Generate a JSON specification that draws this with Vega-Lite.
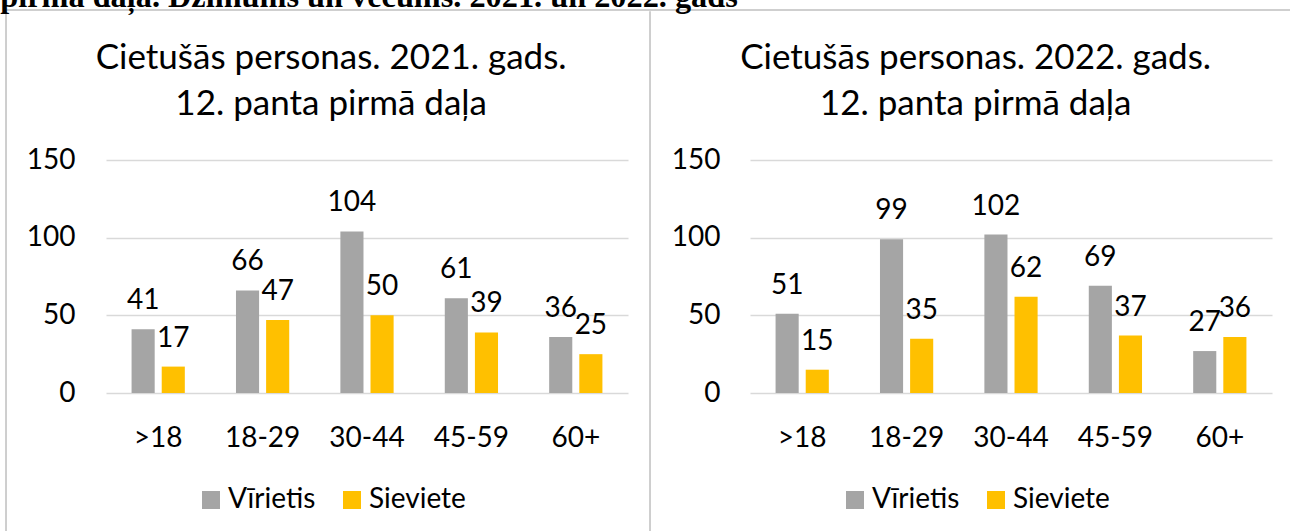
{
  "$schema": "https://vega.github.io/schema/vega-lite/v6.json",
  "padding": {"top": -20, "left": 0, "right": 0, "bottom": 0},
  "background": "white",
  "title": {"text": "pirmā daļa. Dzimums un vecums. 2021. un 2022. gads", "font": "Liberation Serif", "fontSize": 32.3, "fontWeight": "bold", "color": "#000000", "anchor": "start", "baseline": "alphabetic", "offset": -30, "dx": -5},
  "datasets": {
    "victims": [
      {"year": 2021, "age": ">18", "sex": "Vīrietis", "value": 41},
      {"year": 2021, "age": ">18", "sex": "Sieviete", "value": 17},
      {"year": 2021, "age": "18-29", "sex": "Vīrietis", "value": 66},
      {"year": 2021, "age": "18-29", "sex": "Sieviete", "value": 47},
      {"year": 2021, "age": "30-44", "sex": "Vīrietis", "value": 104},
      {"year": 2021, "age": "30-44", "sex": "Sieviete", "value": 50},
      {"year": 2021, "age": "45-59", "sex": "Vīrietis", "value": 61},
      {"year": 2021, "age": "45-59", "sex": "Sieviete", "value": 39},
      {"year": 2021, "age": "60+", "sex": "Vīrietis", "value": 36},
      {"year": 2021, "age": "60+", "sex": "Sieviete", "value": 25},
      {"year": 2022, "age": ">18", "sex": "Vīrietis", "value": 51},
      {"year": 2022, "age": ">18", "sex": "Sieviete", "value": 15},
      {"year": 2022, "age": "18-29", "sex": "Vīrietis", "value": 99},
      {"year": 2022, "age": "18-29", "sex": "Sieviete", "value": 35},
      {"year": 2022, "age": "30-44", "sex": "Vīrietis", "value": 102},
      {"year": 2022, "age": "30-44", "sex": "Sieviete", "value": 62},
      {"year": 2022, "age": "45-59", "sex": "Vīrietis", "value": 69},
      {"year": 2022, "age": "45-59", "sex": "Sieviete", "value": 37},
      {"year": 2022, "age": "60+", "sex": "Vīrietis", "value": 27},
      {"year": 2022, "age": "60+", "sex": "Sieviete", "value": 36}
    ]
  },
  "config": {"view": {"stroke": null}, "font": "Lato", "legend": {"layout": {"bottom": {"anchor": "middle"}}}},
  "spacing": 0,
  "resolve": {"scale": {"color": "independent"}, "legend": {"color": "independent"}},
  "vconcat": [
    {"width": 1285, "height": 0.01, "data": {"values": []}, "mark": {"type": "point"}, "view": {"stroke": "#BFBFBF", "strokeWidth": 1.5}},
    {
      "spacing": 21,
      "resolve": {"scale": {"color": "independent"}, "legend": {"color": "independent"}},
      "hconcat": [
        {
          "spacing": 19,
          "resolve": {"scale": {"color": "independent"}, "legend": {"color": "independent"}},
          "hconcat": [
            {"width": 0.01, "height": 520, "data": {"values": []}, "mark": {"type": "point"}, "view": {"stroke": "#BFBFBF", "strokeWidth": 1.5}},
            {
              "spacing": 28,
              "resolve": {"scale": {"color": "independent"}, "legend": {"color": "independent"}},
              "vconcat": [
                {"width": 522, "height": 0.01, "data": {"values": []}, "mark": {"type": "point"}},
                {
                  "width": 522, "height": 233,
                  "data": {"name": "victims"},
                  "transform": [{"filter": "datum.year == 2021"}],
                  "title": {"text": ["Cietušās personas. 2021. gads.", "12. panta pirmā daļa"], "font": "Lato", "fontSize": 35, "fontWeight": "normal", "lineHeight": 46, "color": "#000000", "baseline": "top", "anchor": "middle", "frame": "bounds", "offset": 24, "dx": 4},
                  "encoding": {
                    "x": {"field": "age", "type": "nominal", "sort": [">18", "18-29", "30-44", "45-59", "60+"], "scale": {"paddingInner": 0.49, "paddingOuter": 0.245},
                      "axis": {"domain": false, "ticks": false, "tickSize": 0, "labelAngle": 0, "labelFontSize": 28, "labelFont": "Lato", "labelColor": "#000000", "labelPadding": 31, "title": null}},
                    "xOffset": {"field": "sex", "type": "nominal", "sort": ["Vīrietis", "Sieviete"], "scale": {"paddingInner": 0.233, "paddingOuter": 0}},
                    "y": {"field": "value", "type": "quantitative", "scale": {"domain": [0, 150]},
                      "axis": {"values": [0, 50, 100, 150], "grid": true, "gridColor": "#D9D9D9", "gridWidth": 1.5, "domain": false, "ticks": false, "tickSize": 0, "labelFontSize": 28, "labelFont": "Lato", "labelColor": "#000000", "labelPadding": 31, "title": null}}
                  },
                  "layer": [
                    {"mark": {"type": "bar"},
                     "encoding": {"color": {"field": "sex", "type": "nominal", "scale": {"domain": ["Vīrietis", "Sieviete"], "range": ["#A5A5A5", "#FFC000"]},
                       "legend": {"orient": "bottom", "direction": "horizontal", "title": " ", "titleOrient": "right", "titlePadding": 72, "symbolType": "square", "symbolSize": 324, "symbolStrokeWidth": 0, "labelFontSize": 28, "labelFont": "Lato", "labelColor": "#000000", "labelOffset": 3, "columnPadding": 22, "offset": 34}}}},
                    {"mark": {"type": "text", "baseline": "alphabetic", "dy": -20, "fontSize": 28, "font": "Lato", "color": "#000000"},
                     "encoding": {"text": {"field": "value", "type": "quantitative"}}}
                  ]
                }
              ]
            }
          ]
        },
        {
          "spacing": 20,
          "resolve": {"scale": {"color": "independent"}, "legend": {"color": "independent"}},
          "hconcat": [
            {"width": 0.01, "height": 520, "data": {"values": []}, "mark": {"type": "point"}, "view": {"stroke": "#BFBFBF", "strokeWidth": 1.5}},
            {
              "spacing": 28,
              "resolve": {"scale": {"color": "independent"}, "legend": {"color": "independent"}},
              "vconcat": [
                {"width": 522, "height": 0.01, "data": {"values": []}, "mark": {"type": "point"}},
                {
                  "width": 522, "height": 233,
                  "data": {"name": "victims"},
                  "transform": [{"filter": "datum.year == 2022"}],
                  "title": {"text": ["Cietušās personas. 2022. gads.", "12. panta pirmā daļa"], "font": "Lato", "fontSize": 35, "fontWeight": "normal", "lineHeight": 46, "color": "#000000", "baseline": "top", "anchor": "middle", "frame": "bounds", "offset": 24, "dx": 4},
                  "encoding": {
                    "x": {"field": "age", "type": "nominal", "sort": [">18", "18-29", "30-44", "45-59", "60+"], "scale": {"paddingInner": 0.49, "paddingOuter": 0.245},
                      "axis": {"domain": false, "ticks": false, "tickSize": 0, "labelAngle": 0, "labelFontSize": 28, "labelFont": "Lato", "labelColor": "#000000", "labelPadding": 31, "title": null}},
                    "xOffset": {"field": "sex", "type": "nominal", "sort": ["Vīrietis", "Sieviete"], "scale": {"paddingInner": 0.233, "paddingOuter": 0}},
                    "y": {"field": "value", "type": "quantitative", "scale": {"domain": [0, 150]},
                      "axis": {"values": [0, 50, 100, 150], "grid": true, "gridColor": "#D9D9D9", "gridWidth": 1.5, "domain": false, "ticks": false, "tickSize": 0, "labelFontSize": 28, "labelFont": "Lato", "labelColor": "#000000", "labelPadding": 30, "title": null}}
                  },
                  "layer": [
                    {"mark": {"type": "bar"},
                     "encoding": {"color": {"field": "sex", "type": "nominal", "scale": {"domain": ["Vīrietis", "Sieviete"], "range": ["#A5A5A5", "#FFC000"]},
                       "legend": {"orient": "bottom", "direction": "horizontal", "title": " ", "titleOrient": "right", "titlePadding": 72, "symbolType": "square", "symbolSize": 324, "symbolStrokeWidth": 0, "labelFontSize": 28, "labelFont": "Lato", "labelColor": "#000000", "labelOffset": 3, "columnPadding": 22, "offset": 34}}}},
                    {"mark": {"type": "text", "baseline": "alphabetic", "dy": -20, "fontSize": 28, "font": "Lato", "color": "#000000"},
                     "encoding": {"text": {"field": "value", "type": "quantitative"}}}
                  ]
                }
              ]
            }
          ]
        }
      ]
    }
  ]
}
